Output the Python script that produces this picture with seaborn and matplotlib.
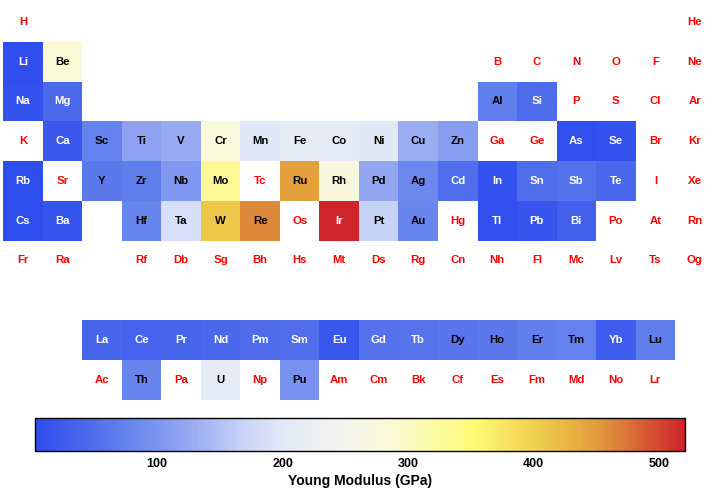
import numpy as np
import pandas as pd
import matplotlib
matplotlib.use("Agg")
import matplotlib.pyplot as plt
from matplotlib.colors import LinearSegmentedColormap
from matplotlib.ticker import MultipleLocator, FixedLocator
import seaborn as sns

# ---- data -------------------------------------------------------------
# periodic-table layout (category grid), "" = empty slot
table_rows = [
    ["H", "", "", "", "", "", "", "", "", "", "", "", "", "", "", "", "", "He"],
    ["Li", "Be", "", "", "", "", "", "", "", "", "", "", "B", "C", "N", "O", "F", "Ne"],
    ["Na", "Mg", "", "", "", "", "", "", "", "", "", "", "Al", "Si", "P", "S", "Cl", "Ar"],
    ["K", "Ca", "Sc", "Ti", "V", "Cr", "Mn", "Fe", "Co", "Ni", "Cu", "Zn", "Ga", "Ge", "As", "Se", "Br", "Kr"],
    ["Rb", "Sr", "Y", "Zr", "Nb", "Mo", "Tc", "Ru", "Rh", "Pd", "Ag", "Cd", "In", "Sn", "Sb", "Te", "I", "Xe"],
    ["Cs", "Ba", "", "Hf", "Ta", "W", "Re", "Os", "Ir", "Pt", "Au", "Hg", "Tl", "Pb", "Bi", "Po", "At", "Rn"],
    ["Fr", "Ra", "", "Rf", "Db", "Sg", "Bh", "Hs", "Mt", "Ds", "Rg", "Cn", "Nh", "Fl", "Mc", "Lv", "Ts", "Og"],
    ["", "", "", "", "", "", "", "", "", "", "", "", "", "", "", "", "", ""],
    ["", "", "La", "Ce", "Pr", "Nd", "Pm", "Sm", "Eu", "Gd", "Tb", "Dy", "Ho", "Er", "Tm", "Yb", "Lu", ""],
    ["", "", "Ac", "Th", "Pa", "U", "Np", "Pu", "Am", "Cm", "Bk", "Cf", "Es", "Fm", "Md", "No", "Lr", ""],
]

elements = ["Li", "Be", "Na", "Mg", "Al", "Si", "Ca", "Sc", "Ti", "V", "Cr", "Mn",
            "Fe", "Co", "Ni", "Cu", "Zn", "As", "Se", "Rb", "Y", "Zr", "Nb", "Mo",
            "Ru", "Rh", "Pd", "Ag", "Cd", "In", "Sn", "Sb", "Te", "Cs", "Ba", "Hf",
            "Ta", "W", "Re", "Ir", "Pt", "Au", "Tl", "Pb", "Bi",
            "La", "Ce", "Pr", "Nd", "Pm", "Sm", "Eu", "Gd", "Tb", "Dy", "Ho", "Er",
            "Tm", "Yb", "Lu", "Th", "U", "Pu"]
young_modulus = [4.9, 287, 10, 45, 70, 47, 20, 74, 116, 128, 279, 198,
                 211, 209, 200, 130, 108, 8, 10, 2.4, 64, 68, 105, 329,
                 447, 275, 121, 83, 50, 11, 50, 55, 43, 1.7, 13, 78,
                 186, 411, 463, 528, 168, 78, 8, 16, 32,
                 37, 34, 37, 41, 46, 50, 18, 55, 56, 61, 65, 70,
                 74, 24, 69, 79, 208, 96]

cbar_ticks = [100, 200, 300, 400, 500]
cbar_label = "Young Modulus (GPa)"

# ---- style ------------------------------------------------------------
VMIN, VMAX = 2.5, 521.0
nodes = [
    (2.5, (0.18, 0.30, 0.93)),
    (45, (0.30, 0.42, 0.92)),
    (78, (0.41, 0.52, 0.93)),
    (105, (0.51, 0.60, 0.94)),
    (130, (0.61, 0.68, 0.95)),
    (168, (0.78, 0.83, 0.97)),
    (200, (0.89, 0.91, 0.97)),
    (250, (0.96, 0.96, 0.93)),
    (287, (0.98, 0.98, 0.84)),
    (329, (0.99, 0.98, 0.59)),
    (355, (1.00, 0.98, 0.45)),
    (411, (0.93, 0.78, 0.29)),
    (447, (0.89, 0.63, 0.24)),
    (463, (0.87, 0.54, 0.23)),
    (521, (0.81, 0.14, 0.17)),
]
cmap = LinearSegmentedColormap.from_list(
    "temp", [((v - VMIN) / (VMAX - VMIN), c) for v, c in nodes])

sns.set_style("white")
plt.rcParams["font.family"] = ["Liberation Sans", "DejaVu Sans"]
plt.rcParams["text.color"] = "black"
plt.rcParams["axes.labelcolor"] = "black"
plt.rcParams["xtick.color"] = "black"

value_of = dict(zip(elements, young_modulus))
grid = pd.DataFrame([[value_of.get(s, np.nan) if s else np.nan for s in row]
                     for row in table_rows])

fig = plt.figure(figsize=(7.2, 4.94), dpi=100)
W, H = 720, 494
ax = fig.add_axes([3.2 / W, 1 - 399.6 / H, 711.5 / W, 397.5 / H])
cax = fig.add_axes([35 / W, 1 - 451 / H, 650 / W, 33 / H])

sns.heatmap(grid, ax=ax, cmap=cmap, vmin=VMIN, vmax=VMAX, cbar=True,
            cbar_ax=cax, cbar_kws={"orientation": "horizontal"},
            xticklabels=False, yticklabels=False, linewidths=0)
ax.set_xlabel("")
ax.set_ylabel("")

for i, row in enumerate(table_rows):
    for j, sym in enumerate(row):
        if not sym:
            continue
        v = value_of.get(sym)
        if v is None:
            color = "#ff0000"
        elif v < 58 or v > 500:
            color = "white"
        else:
            color = "black"
        ax.text(j + 0.5, i + 0.5, sym, ha="center", va="center",
                fontsize=8.2, fontweight="bold", color=color)

cb = ax.collections[0].colorbar
cb.outline.set_edgecolor("black")
cb.outline.set_linewidth(1.0)
cax.xaxis.set_major_locator(FixedLocator(cbar_ticks))
cax.xaxis.set_minor_locator(MultipleLocator(20))
cax.tick_params(axis="x", which="both", direction="in", bottom=True, top=False,
                color="black", labelcolor="black", labelsize=9, pad=5)
cax.tick_params(axis="x", which="major", length=4, width=0.8)
cax.tick_params(axis="x", which="minor", length=2.5, width=0.6)
for lbl in cax.get_xticklabels():
    lbl.set_fontweight("bold")
    lbl.set_color("black")
cax.set_xlabel(cbar_label, fontsize=10, fontweight="bold", labelpad=3,
               color="black")

fig.savefig("out.png", dpi=100, facecolor="white")
